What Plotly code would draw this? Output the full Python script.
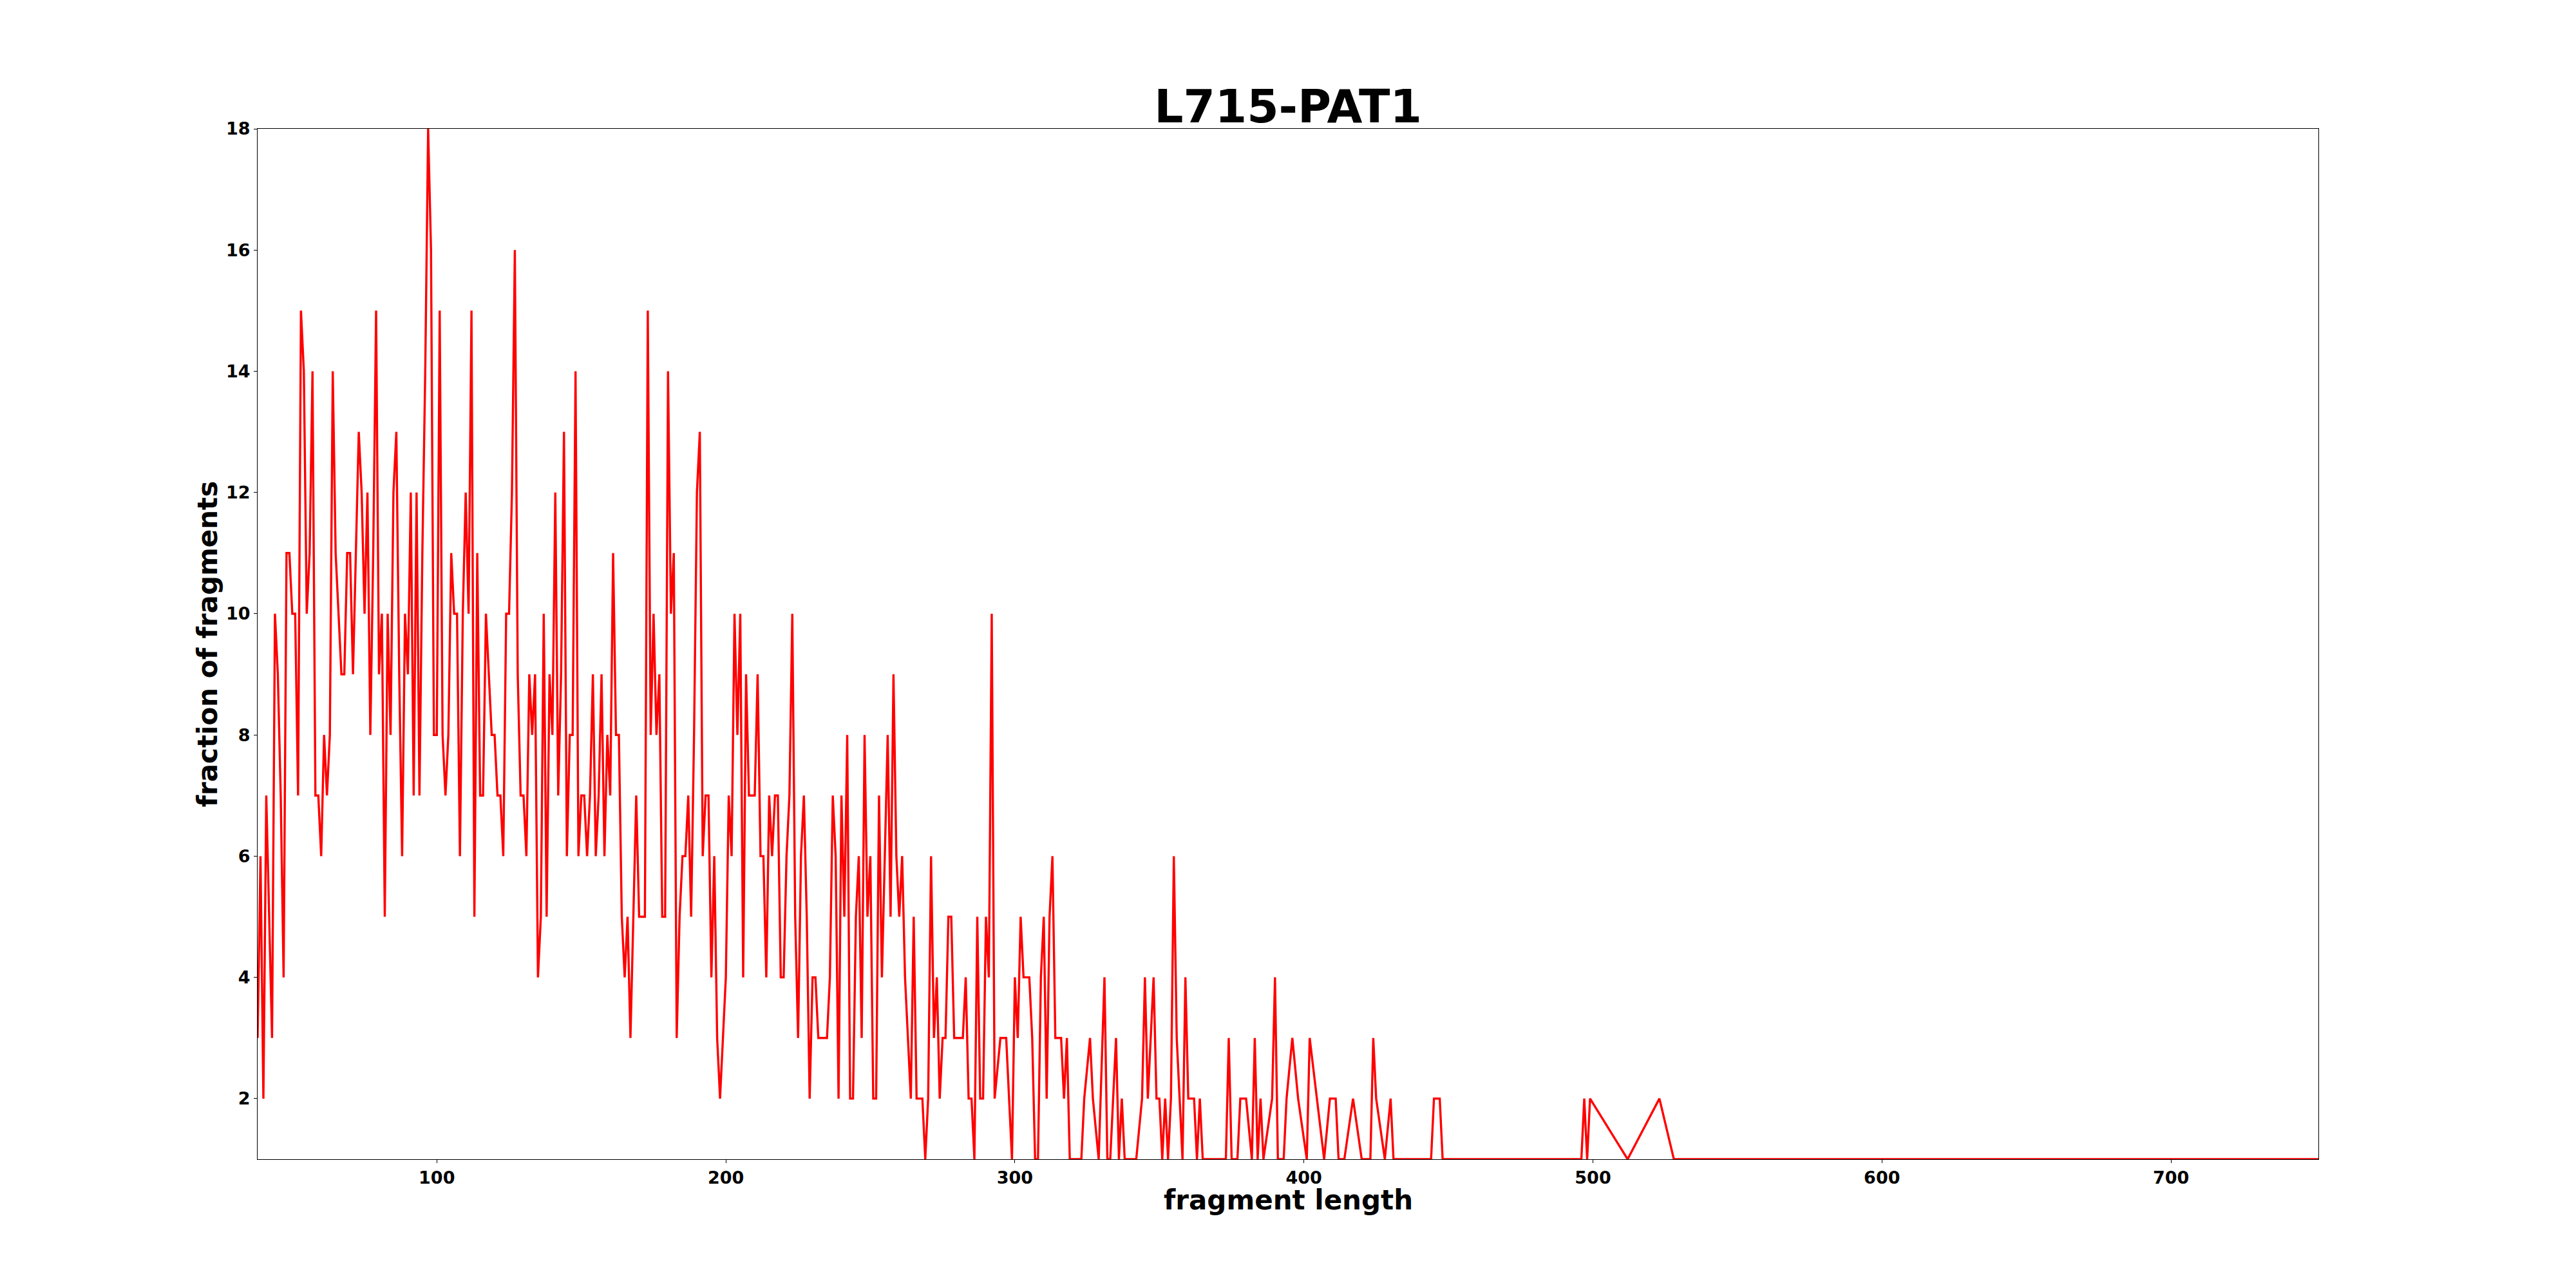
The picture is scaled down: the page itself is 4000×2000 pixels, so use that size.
import plotly.graph_objects as go

title_text = "L715-PAT1"
x_label = "fragment length"
y_label = "fraction of fragments"

fragment_length = [
    38, 39, 40, 41, 42, 43, 44, 45, 46, 47, 48, 49, 50, 51, 52, 53, 54, 55, 56, 57,
    58, 59, 60, 61, 62, 63, 64, 65, 66, 67, 68, 69, 70, 71, 72, 73, 74, 75, 76, 77,
    78, 79, 80, 81, 82, 83, 84, 85, 86, 87, 88, 89, 90, 91, 92, 93, 94, 95, 96, 97,
    98, 99, 100, 101, 102, 103, 104, 105, 106, 107, 108, 109, 110, 111, 112, 113, 114, 115, 116, 117,
    118, 119, 120, 121, 122, 123, 124, 125, 126, 127, 128, 129, 130, 131, 132, 133, 134, 135, 136, 137,
    138, 139, 140, 141, 142, 143, 144, 145, 146, 147, 148, 149, 150, 151, 152, 153, 154, 155, 156, 157,
    158, 159, 160, 161, 162, 163, 164, 165, 166, 167, 168, 169, 170, 171, 172, 173, 174, 175, 176, 177,
    178, 179, 180, 181, 182, 183, 184, 185, 186, 187, 188, 189, 190, 191, 192, 193, 194, 195, 196, 197,
    198, 199, 200, 201, 202, 203, 204, 205, 206, 207, 208, 209, 210, 211, 212, 213, 214, 215, 216, 217,
    218, 219, 220, 221, 222, 223, 224, 225, 226, 227, 228, 229, 230, 231, 232, 233, 234, 235, 236, 237,
    238, 239, 240, 241, 242, 243, 244, 245, 246, 247, 248, 249, 250, 251, 252, 253, 254, 255, 256, 257,
    258, 259, 260, 261, 262, 263, 264, 265, 266, 267, 268, 269, 270, 271, 272, 273, 274, 275, 276, 277,
    278, 279, 280, 281, 282, 283, 284, 285, 286, 287, 288, 289, 290, 291, 292, 293, 295, 296, 297, 298,
    299, 300, 301, 302, 303, 304, 305, 306, 307, 308, 309, 310, 311, 312, 313, 314, 315, 316, 317, 318,
    319, 320, 321, 322, 323, 324, 326, 327, 329, 331, 332, 333, 334, 335, 336, 337, 338, 339, 340, 341,
    342, 344, 345, 346, 347, 348, 349, 350, 351, 352, 353, 354, 355, 356, 357, 358, 359, 360, 361, 362,
    363, 364, 365, 373, 374, 375, 376, 377, 378, 379, 380, 382, 383, 384, 385, 386, 389, 390, 391, 392,
    393, 394, 396, 398, 401, 402, 407, 409, 410, 411, 412, 413, 414, 417, 420, 421, 422, 423, 424, 425,
    428, 430, 431, 444, 445, 446, 447, 448, 496, 497, 498, 499, 512, 523, 528, 751,
]

fragment_count = [
    3, 6, 2, 7, 5, 3, 10, 9, 7, 4, 11, 11, 10, 10, 7, 15, 14, 10, 11, 14,
    7, 7, 6, 8, 7, 8, 14, 11, 10, 9, 9, 11, 11, 9, 11, 13, 12, 10, 12, 8,
    11, 15, 9, 10, 5, 10, 8, 12, 13, 9, 6, 10, 9, 12, 7, 12, 7, 11, 14, 18,
    16, 8, 8, 15, 8, 7, 8, 11, 10, 10, 6, 10, 12, 10, 15, 5, 11, 7, 7, 10,
    9, 8, 8, 7, 7, 6, 10, 10, 12, 16, 9, 7, 7, 6, 9, 8, 9, 4, 5, 10,
    5, 9, 8, 12, 7, 9, 13, 6, 8, 8, 14, 6, 7, 7, 6, 7, 9, 6, 7, 9,
    6, 8, 7, 11, 8, 8, 5, 4, 5, 3, 5, 7, 5, 5, 5, 15, 8, 10, 8, 9,
    5, 5, 14, 10, 11, 3, 5, 6, 6, 7, 5, 8, 12, 13, 6, 7, 7, 4, 6, 3,
    2, 3, 4, 7, 6, 10, 8, 10, 4, 9, 7, 7, 7, 9, 6, 6, 4, 7, 6, 7,
    7, 4, 4, 6, 7, 10, 5, 3, 6, 7, 5, 2, 4, 4, 3, 3, 3, 3, 4, 7,
    6, 2, 7, 5, 8, 2, 2, 5, 6, 3, 8, 5, 6, 2, 2, 7, 4, 6, 8, 5,
    9, 6, 5, 6, 4, 3, 2, 5, 2, 2, 2, 1, 2, 6, 3, 4, 2, 3, 3, 5,
    5, 3, 3, 3, 3, 4, 2, 2, 1, 5, 2, 2, 5, 4, 10, 2, 3, 3, 3, 2,
    1, 4, 3, 5, 4, 4, 4, 3, 1, 1, 4, 5, 2, 5, 6, 3, 3, 3, 2, 3,
    1, 1, 1, 1, 1, 2, 3, 2, 1, 4, 1, 1, 2, 3, 1, 2, 1, 1, 1, 1,
    1, 2, 4, 2, 3, 4, 2, 2, 1, 2, 1, 2, 6, 3, 2, 1, 4, 2, 2, 2,
    1, 2, 1, 1, 3, 1, 1, 1, 2, 2, 2, 1, 3, 1, 2, 1, 2, 4, 1, 1,
    1, 2, 3, 2, 1, 3, 1, 2, 2, 2, 1, 1, 1, 2, 1, 1, 1, 1, 3, 2,
    1, 2, 1, 1, 2, 2, 2, 1, 1, 2, 1, 2, 1, 2, 1, 1,
]

x_ticks = [100, 200, 300, 400, 500, 600, 700]
y_ticks = [2, 4, 6, 8, 10, 12, 14, 16, 18]

FONT = "DejaVu Sans"

fig = go.Figure()
fig.add_trace(go.Scatter(
    x=fragment_length,
    y=fragment_count,
    mode="lines",
    line=dict(color="#ff0000", width=3.4),
    hoverinfo="skip",
    showlegend=False,
))

axis_common = dict(
    showline=True,
    linecolor="black",
    linewidth=1.1,
    mirror=True,
    showgrid=False,
    zeroline=False,
    ticks="outside",
    ticklen=5,
    tickwidth=1.1,
    tickcolor="black",
    tickfont=dict(family=FONT, size=27, color="black", weight="bold"),
)

fig.update_layout(
    width=4000,
    height=2000,
    margin=dict(l=400, r=400, t=200, b=200, autoexpand=False),
    paper_bgcolor="white",
    plot_bgcolor="white",
    title=dict(
        text=title_text,
        font=dict(family=FONT, size=71, color="black", weight="bold"),
        x=0.5,
        xanchor="center",
        xref="paper",
        y=0.905,
        yref="container",
        yanchor="bottom",
    ),
    xaxis=dict(
        range=[min(fragment_length), max(fragment_length)],
        tickmode="array",
        tickvals=x_ticks,
        **axis_common,
    ),
    yaxis=dict(
        range=[min(fragment_count), max(fragment_count)],
        tickmode="array",
        tickvals=y_ticks,
        title=dict(text=y_label, standoff=0,
                   font=dict(family=FONT, size=42, color="black", weight="bold")),
        **axis_common,
    ),
    annotations=[
        dict(
            text=x_label,
            xref="paper", yref="paper",
            x=0.5, y=-0.0395,
            xanchor="center", yanchor="middle",
            showarrow=False,
            font=dict(family=FONT, size=42, color="black", weight="bold"),
        )
    ],
)

fig.write_html(
    "out.html",
    config={"displayModeBar": False},
    post_script="document.body.style.margin='0px';document.body.style.overflow='hidden';",
)
